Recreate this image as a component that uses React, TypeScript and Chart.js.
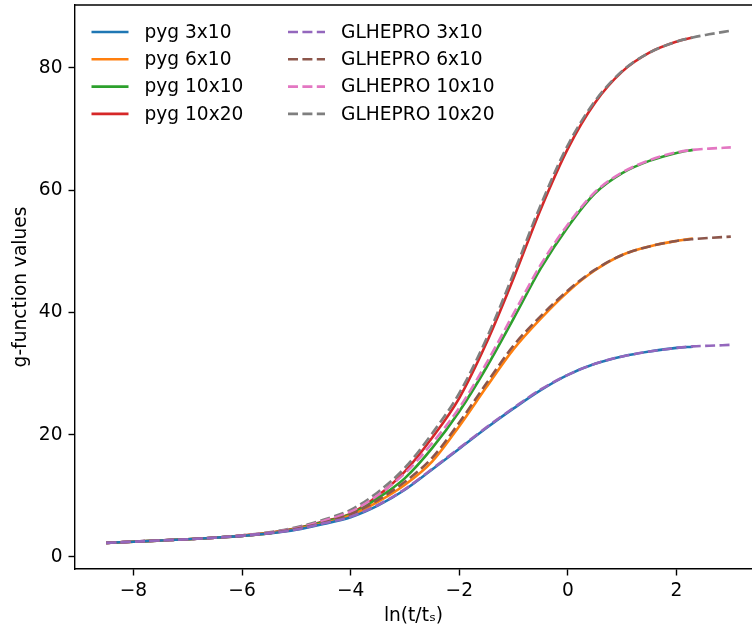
import React, { useEffect, useRef } from "react";
import { Chart, registerables } from "chart.js";

Chart.register(...registerables);

// ---- data ----
const xPyg = [-8.5, -8, -7.5, -7, -6.5, -6, -5.5, -5, -4.5, -4, -3.5, -3, -2.5, -2, -1.5, -1, -0.5, 0, 0.5, 1, 1.5, 2, 2.3];
const xGlhepro = [-8.5, -8, -7.5, -7, -6.5, -6, -5.5, -5, -4.5, -4, -3.5, -3, -2.5, -2, -1.5, -1, -0.5, 0, 0.5, 1, 1.5, 2, 2.3, 2.6, 3.0];

const pyg3x10 = [2.3, 2.5, 2.7, 2.9, 3.15, 3.45, 3.85, 4.45, 5.4, 6.5, 8.4, 11.0, 14.3, 17.7, 21.1, 24.3, 27.3, 29.8, 31.6, 32.8, 33.6, 34.2, 34.4];
const pyg6x10 = [2.3, 2.5, 2.7, 2.9, 3.15, 3.45, 3.9, 4.55, 5.5, 6.8, 9.0, 11.8, 15.6, 21.4, 27.8, 34.0, 39.0, 43.4, 46.9, 49.4, 50.8, 51.7, 52.1];
const pyg10x10 = [2.3, 2.5, 2.7, 2.9, 3.15, 3.45, 3.9, 4.6, 5.7, 7.0, 9.6, 12.9, 17.8, 23.8, 31.0, 39.0, 47.2, 54.0, 59.5, 62.8, 64.8, 66.1, 66.6];
const pyg10x20 = [2.3, 2.5, 2.7, 2.9, 3.15, 3.5, 3.95, 4.7, 5.8, 7.1, 10.0, 14.0, 19.5, 26.0, 35.0, 45.6, 56.9, 66.8, 74.3, 79.4, 82.5, 84.3, 85.0];

const glhepro3x10 = [2.3, 2.5, 2.7, 2.9, 3.15, 3.45, 3.9, 4.5, 5.5, 6.6, 8.5, 11.1, 14.4, 17.8, 21.2, 24.4, 27.4, 29.8, 31.6, 32.8, 33.6, 34.2, 34.45, 34.55, 34.7];
const glhepro6x10 = [2.3, 2.5, 2.7, 2.9, 3.15, 3.45, 3.9, 4.6, 5.6, 7.0, 9.3, 12.3, 16.2, 22.0, 28.4, 34.6, 39.4, 43.6, 47.0, 49.4, 50.8, 51.7, 52.0, 52.2, 52.4];
const glhepro10x10 = [2.3, 2.5, 2.7, 2.9, 3.15, 3.5, 3.95, 4.7, 5.9, 7.4, 10.1, 13.7, 18.6, 24.4, 31.7, 39.8, 47.8, 54.4, 59.7, 62.9, 64.9, 66.2, 66.6, 66.8, 67.0];
const glhepro10x20 = [2.3, 2.5, 2.7, 2.9, 3.2, 3.55, 4.05, 4.85, 6.1, 7.7, 10.6, 14.6, 20.2, 26.8, 35.7, 46.4, 57.6, 67.4, 74.6, 79.5, 82.5, 84.3, 85.0, 85.5, 86.1];

const pygLabels = ["pyg 3x10", "pyg 6x10", "pyg 10x10", "pyg 10x20"];
const glheproLabels = ["GLHEPRO 3x10", "GLHEPRO 6x10", "GLHEPRO 10x10", "GLHEPRO 10x20"];
const pygColors = ["#1f77b4", "#ff7f0e", "#2ca02c", "#d62728"];
const glheproColors = ["#9467bd", "#8c564b", "#e377c2", "#7f7f7f"];

const xTicks = [-8, -6, -4, -2, 0, 2];
const yTicks = [0, 20, 40, 60, 80];
const X_MIN = -9.075;
const X_MAX = 3.39;
const Y_MIN = -1.97;
const Y_MAX = 90.3;

const FONT = "DejaVu Sans";
const FS = 18.6;
const LW = 2.6;
const DASH = [10, 4.4];

const fmt = (v: number) => (v < 0 ? "\u2212" + Math.abs(v) : String(v));

const framePlugin = {
  id: "frame",
  afterDraw(chart: any) {
    const { ctx, chartArea } = chart;
    ctx.save();
    ctx.strokeStyle = "#000";
    ctx.lineWidth = 1.4;
    ctx.beginPath();
    ctx.moveTo(chartArea.left, chartArea.top);
    ctx.lineTo(chart.width, chartArea.top);
    ctx.stroke();
    ctx.restore();
  },
};

const legendPlugin = {
  id: "mplLegend",
  afterDraw(chart: any) {
    const { ctx, chartArea } = chart;
    const ds = chart.data.datasets;
    const col1X = chartArea.left + 16.5;
    const col2X = chartArea.left + 213;
    const handleLen = 37;
    const textPad = 16;
    const rowY0 = chartArea.top + 27;
    const rowPitch = 27.3;
    ctx.save();
    ctx.font = `${FS}px "${FONT}"`;
    ctx.textBaseline = "middle";
    ctx.textAlign = "left";
    ds.forEach((d: any, i: number) => {
      const col = i < 4 ? 0 : 1;
      const row = i % 4;
      const x0 = col === 0 ? col1X : col2X;
      const y = rowY0 + row * rowPitch;
      ctx.strokeStyle = d.borderColor;
      ctx.lineWidth = d.borderWidth;
      ctx.setLineDash(d.borderDash || []);
      ctx.beginPath();
      ctx.moveTo(x0, y);
      ctx.lineTo(x0 + handleLen, y);
      ctx.stroke();
      ctx.setLineDash([]);
      ctx.fillStyle = "#000";
      ctx.fillText(d.label, x0 + handleLen + textPad, y + 1);
    });
    ctx.restore();
  },
};

export default function App() {
  const ref = useRef<HTMLCanvasElement>(null);

  useEffect(() => {
    const pygSeries = [pyg3x10, pyg6x10, pyg10x10, pyg10x20];
    const glSeries = [glhepro3x10, glhepro6x10, glhepro10x10, glhepro10x20];
    const datasets: any[] = [];
    pygSeries.forEach((ys, i) => {
      datasets.push({
        label: pygLabels[i],
        data: xPyg.map((x, j) => ({ x, y: ys[j] })),
        borderColor: pygColors[i],
        backgroundColor: pygColors[i],
        borderWidth: LW,
        pointRadius: 0,
        fill: false,
        order: 1,
      });
    });
    glSeries.forEach((ys, i) => {
      datasets.push({
        label: glheproLabels[i],
        data: xGlhepro.map((x, j) => ({ x, y: ys[j] })),
        borderColor: glheproColors[i],
        backgroundColor: glheproColors[i],
        borderWidth: LW,
        borderDash: DASH,
        pointRadius: 0,
        fill: false,
        order: 0,
      });
    });

    const tickFont = { family: FONT, size: FS };
    const gridOpts = { display: true, drawOnChartArea: false, drawTicks: true, tickLength: 6.5, tickWidth: 1.4, tickColor: "#000" };
    const borderOpts = { display: true, color: "#000", width: 1.4 };

    const chart = new Chart(ref.current as HTMLCanvasElement, {
      type: "line",
      data: { datasets },
      options: {
        animation: false,
        responsive: false,
        layout: { padding: { top: 5, left: 0, right: 0, bottom: 0 } },
        plugins: { legend: { display: false }, tooltip: { enabled: false } },
        elements: { line: { cubicInterpolationMode: "monotone" }, point: { radius: 0 } },
        scales: {
          x: {
            type: "linear",
            min: X_MIN,
            max: X_MAX,
            afterBuildTicks: (s: any) => {
              s.ticks = xTicks.map((v) => ({ value: v }));
            },
            afterFit: (s: any) => {
              s.height = 63;
              s.paddingLeft = 0;
              s.paddingRight = 0;
            },
            ticks: {
              color: "#000",
              font: tickFont,
              padding: 5,
              autoSkip: false,
              maxRotation: 0,
              callback: (v: any) => fmt(Number(v)),
            },
            grid: gridOpts,
            border: borderOpts,
            title: {
              display: true,
              text: "ln(t/t\u209B)",
              color: "#000",
              font: { family: FONT, size: FS },
              padding: { top: 0, bottom: 5 },
            },
          },
          y: {
            type: "linear",
            min: Y_MIN,
            max: Y_MAX,
            afterBuildTicks: (s: any) => {
              s.ticks = yTicks.map((v) => ({ value: v }));
            },
            afterFit: (s: any) => {
              s.width = 75;
              s.paddingTop = 0;
              s.paddingBottom = 0;
            },
            ticks: {
              color: "#000",
              font: tickFont,
              padding: 6,
              autoSkip: false,
              callback: (v: any) => fmt(Number(v)),
            },
            grid: gridOpts,
            border: borderOpts,
            title: {
              display: true,
              text: "g-function values",
              color: "#000",
              font: { family: FONT, size: FS },
              padding: { top: 10, bottom: 0 },
            },
          },
        },
      },
      plugins: [framePlugin, legendPlugin],
    } as any);

    return () => chart.destroy();
  }, []);

  return (
    <div style={{ position: "absolute", left: 0, top: 0, width: 752, height: 632, background: "#fff", overflow: "hidden" }}>
      <canvas ref={ref} width={752} height={632} style={{ display: "block" }} />
    </div>
  );
}
